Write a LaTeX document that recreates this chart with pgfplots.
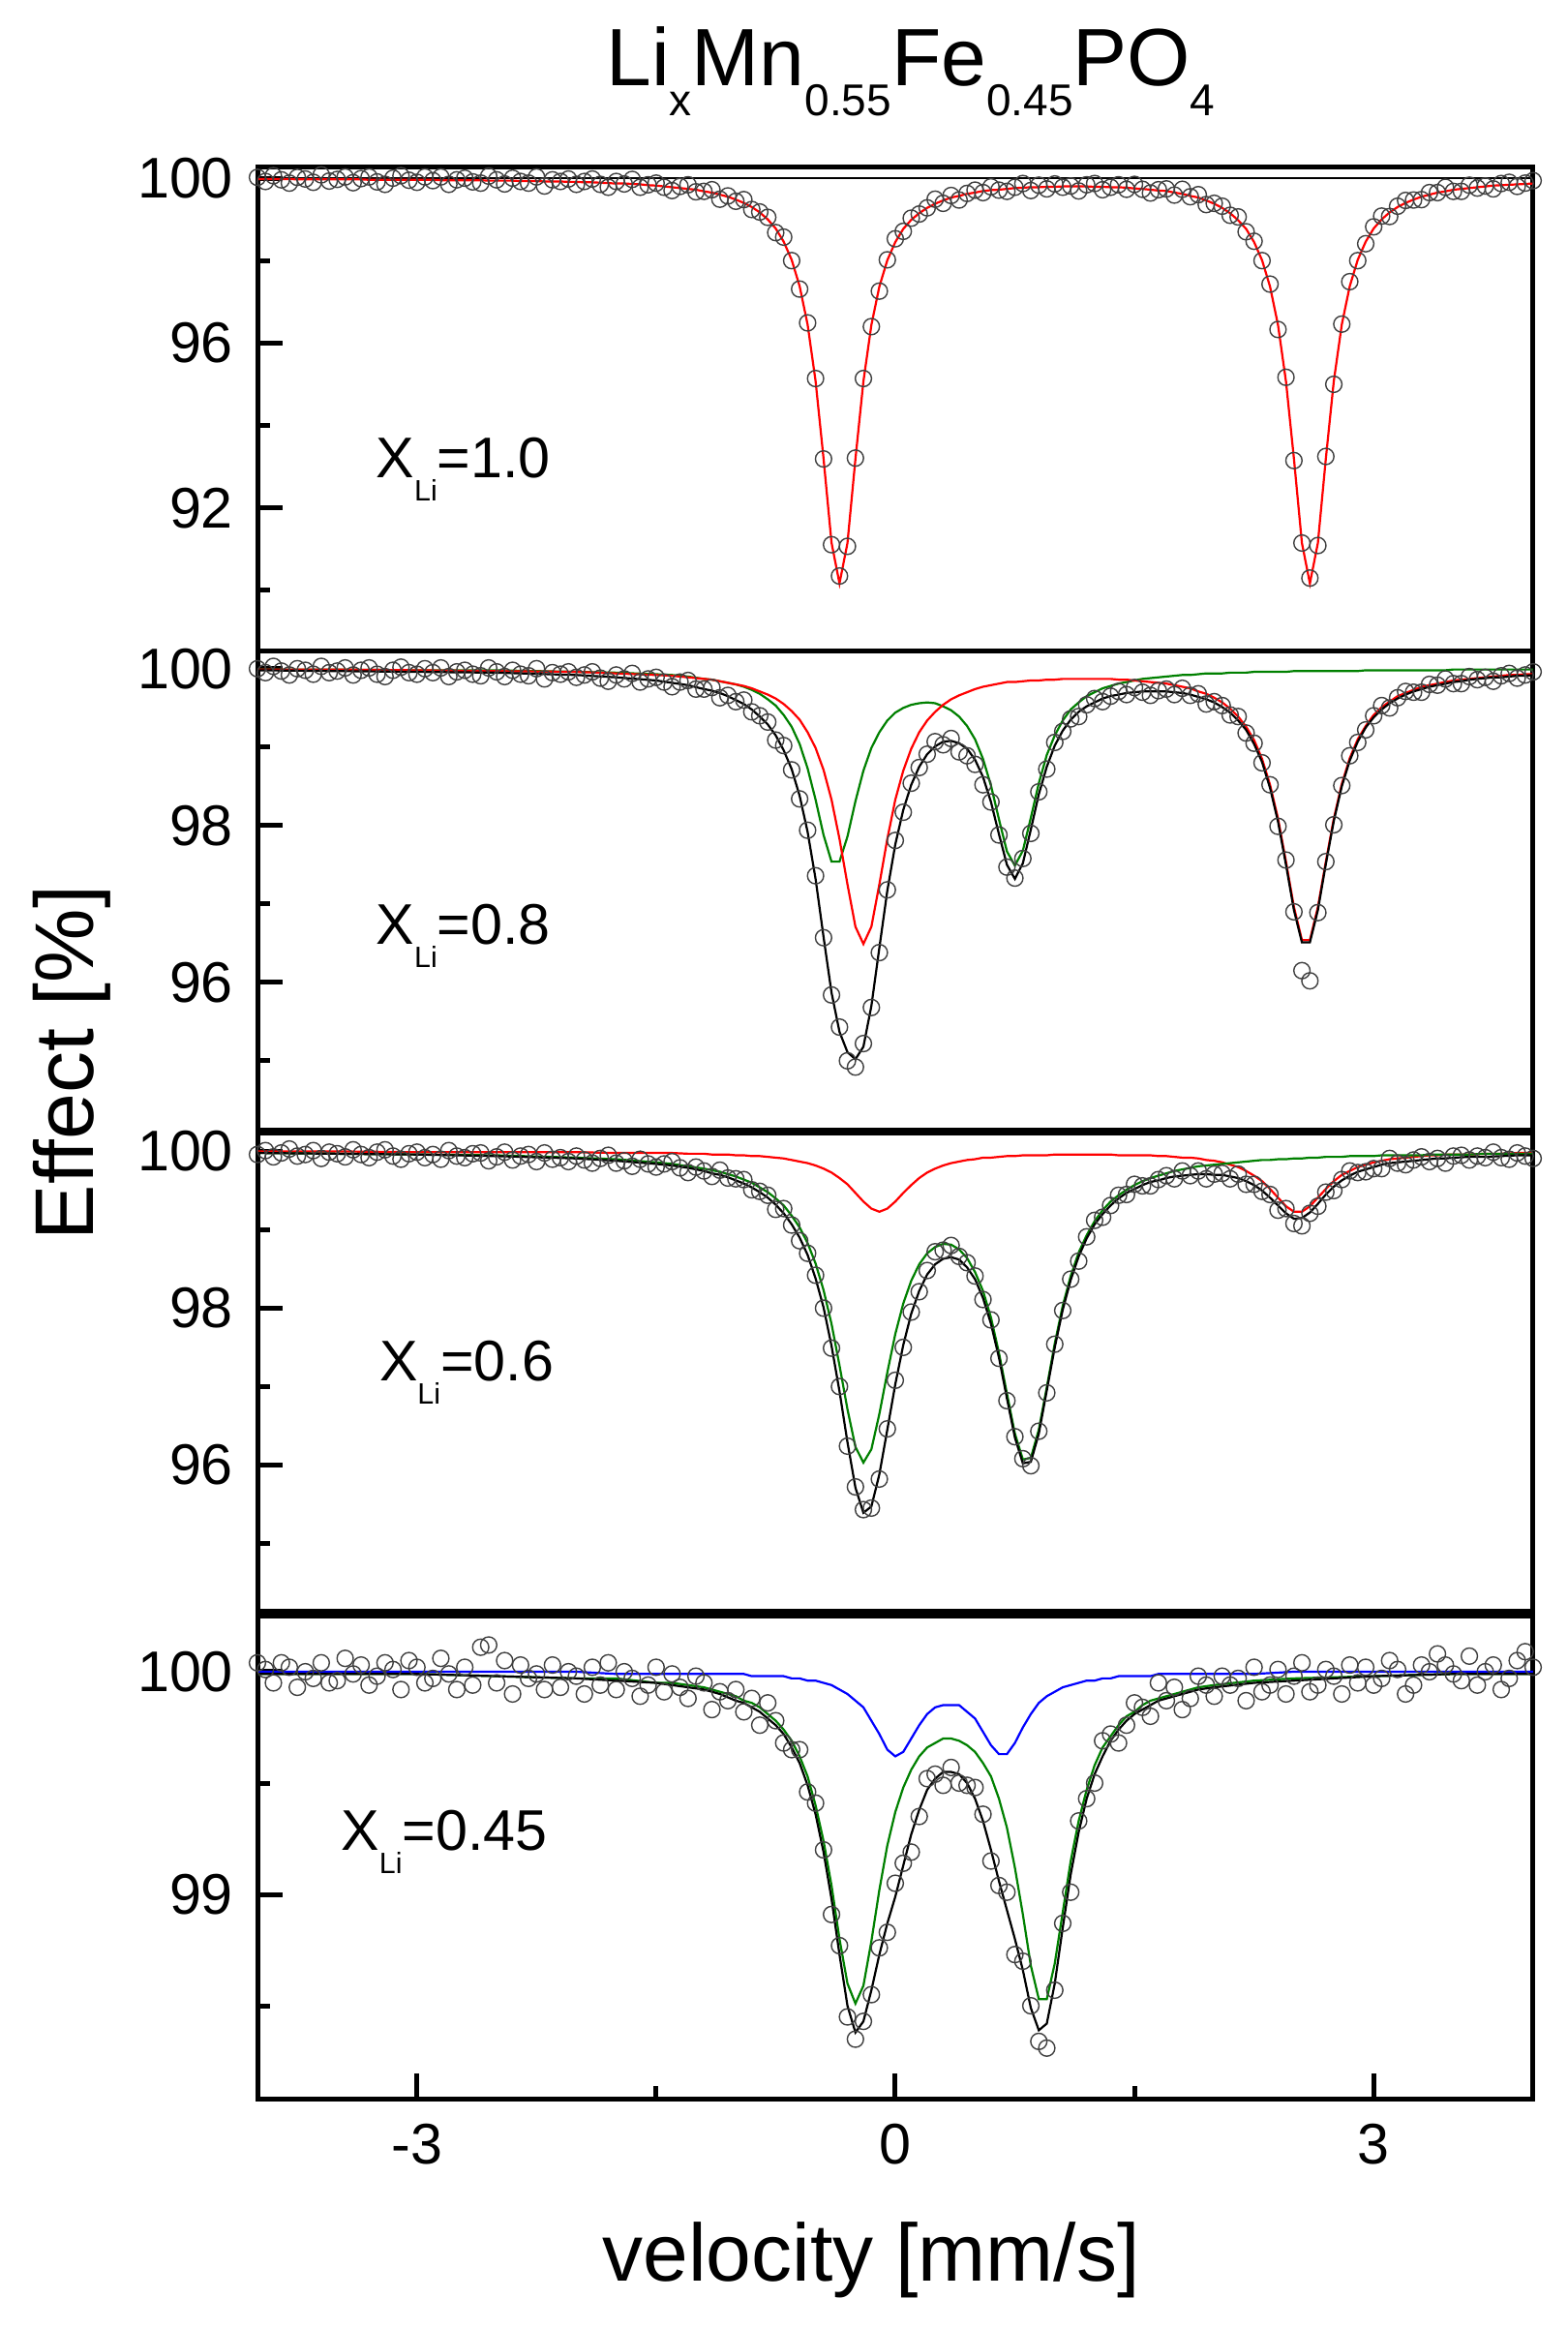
\documentclass[border=0pt]{standalone}
\usepackage{pgfplots}
\pgfplotsset{compat=1.18}
\usepackage{pgfplotstable}
\usepackage{fontspec}
\setmainfont{Liberation Sans}
\definecolor{ogreen}{RGB}{0,128,0}

% ---------- Panel 1 : x d(data) f(fit) ----------
\pgfplotstableread{
x d f
-4.00 100.02 99.98
-3.95 99.92 99.98
-3.90 100.06 99.98
-3.85 99.96 99.98
-3.80 99.88 99.98
-3.75 100.02 99.97
-3.70 99.98 99.97
-3.65 99.90 99.97
-3.60 100.08 99.97
-3.55 99.93 99.97
-3.50 99.97 99.97
-3.45 100.03 99.97
-3.40 99.89 99.97
-3.35 99.99 99.97
-3.30 100.03 99.96
-3.25 99.91 99.96
-3.20 99.85 99.96
-3.15 100.00 99.96
-3.10 100.06 99.96
-3.05 99.95 99.96
-3.00 99.90 99.96
-2.95 100.03 99.96
-2.90 99.94 99.96
-2.85 100.03 99.95
-2.80 99.85 99.95
-2.75 99.96 99.95
-2.70 100.00 99.95
-2.65 99.91 99.95
-2.60 99.88 99.95
-2.55 100.05 99.94
-2.50 99.96 99.94
-2.45 99.86 99.94
-2.40 100.00 99.94
-2.35 99.92 99.93
-2.30 99.88 99.93
-2.25 100.03 99.93
-2.20 99.81 99.92
-2.15 99.96 99.92
-2.10 99.92 99.92
-2.05 99.98 99.91
-2.00 99.85 99.91
-1.95 99.92 99.90
-1.90 99.98 99.90
-1.85 99.85 99.89
-1.80 99.78 99.88
-1.75 99.92 99.87
-1.70 99.86 99.87
-1.65 99.97 99.86
-1.60 99.78 99.85
-1.55 99.84 99.83
-1.50 99.88 99.82
-1.45 99.78 99.80
-1.40 99.70 99.78
-1.35 99.80 99.76
-1.30 99.84 99.74
-1.25 99.67 99.72
-1.20 99.68 99.68
-1.15 99.72 99.65
-1.10 99.49 99.60
-1.05 99.57 99.55
-1.00 99.44 99.48
-0.95 99.48 99.40
-0.90 99.24 99.30
-0.85 99.18 99.17
-0.80 99.05 99.00
-0.75 98.68 98.78
-0.70 98.57 98.46
-0.65 98.00 98.02
-0.60 97.31 97.38
-0.55 96.49 96.45
-0.50 95.14 95.08
-0.45 93.19 93.20
-0.40 91.11 91.16
-0.35 90.35 90.17
-0.30 91.07 91.15
-0.25 93.21 93.19
-0.20 95.14 95.07
-0.15 96.40 96.44
-0.10 97.26 97.37
-0.05 98.02 98.01
0.00 98.53 98.45
0.05 98.71 98.77
0.10 99.03 98.99
0.15 99.13 99.15
0.20 99.28 99.28
0.25 99.49 99.38
0.30 99.39 99.46
0.35 99.58 99.53
0.40 99.47 99.57
0.45 99.63 99.62
0.50 99.71 99.65
0.55 99.65 99.69
0.60 99.79 99.71
0.65 99.71 99.72
0.70 99.68 99.74
0.75 99.78 99.76
0.80 99.87 99.77
0.85 99.70 99.78
0.90 99.83 99.78
0.95 99.74 99.79
1.00 99.86 99.79
1.05 99.78 99.80
1.10 99.81 99.80
1.15 99.69 99.80
1.20 99.84 99.80
1.25 99.87 99.79
1.30 99.72 99.79
1.35 99.78 99.78
1.40 99.84 99.78
1.45 99.73 99.77
1.50 99.85 99.75
1.55 99.73 99.74
1.60 99.64 99.72
1.65 99.72 99.70
1.70 99.74 99.69
1.75 99.59 99.65
1.80 99.73 99.62
1.85 99.55 99.57
1.90 99.60 99.53
1.95 99.36 99.46
2.00 99.39 99.38
2.05 99.32 99.28
2.10 99.10 99.15
2.15 99.06 98.98
2.20 98.70 98.77
2.25 98.47 98.45
2.30 98.00 98.01
2.35 97.43 97.37
2.40 96.33 96.44
2.45 95.17 95.07
2.50 93.15 93.19
2.55 91.15 91.15
2.60 90.30 90.17
2.65 91.09 91.15
2.70 93.25 93.20
2.75 95.00 95.08
2.80 96.46 96.45
2.85 97.49 97.38
2.90 98.00 98.02
2.95 98.41 98.46
3.00 98.82 98.78
3.05 99.08 99.00
3.10 99.07 99.17
3.15 99.32 99.30
3.20 99.46 99.40
3.25 99.47 99.48
3.30 99.48 99.55
3.35 99.65 99.60
3.40 99.65 99.65
3.45 99.78 99.68
3.50 99.68 99.72
3.55 99.68 99.74
3.60 99.83 99.76
3.65 99.76 99.78
3.70 99.81 99.80
3.75 99.74 99.82
3.80 99.87 99.83
3.85 99.90 99.84
3.90 99.80 99.85
3.95 99.88 99.86
4.00 99.94 99.87
}\tA

% ---------- Panel 2 : data ----------
\pgfplotstableread{
x d
-4.00 100.00
-3.95 99.95
-3.90 100.03
-3.85 99.97
-3.80 99.92
-3.75 100.00
-3.70 99.98
-3.65 99.93
-3.60 100.03
-3.55 99.95
-3.50 99.97
-3.45 100.01
-3.40 99.92
-3.35 99.98
-3.30 100.01
-3.25 99.93
-3.20 99.90
-3.15 99.98
-3.10 100.02
-3.05 99.95
-3.00 99.93
-2.95 100.00
-2.90 99.95
-2.85 100.01
-2.80 99.90
-2.75 99.96
-2.70 99.98
-2.65 99.93
-2.60 99.91
-2.55 100.01
-2.50 99.96
-2.45 99.90
-2.40 99.98
-2.35 99.93
-2.30 99.91
-2.25 100.00
-2.20 99.87
-2.15 99.95
-2.10 99.93
-2.05 99.96
-2.00 99.89
-1.95 99.92
-1.90 99.96
-1.85 99.88
-1.80 99.84
-1.75 99.92
-1.70 99.87
-1.65 99.94
-1.60 99.83
-1.55 99.87
-1.50 99.89
-1.45 99.83
-1.40 99.77
-1.35 99.83
-1.30 99.85
-1.25 99.74
-1.20 99.74
-1.15 99.76
-1.10 99.63
-1.05 99.66
-1.00 99.58
-0.95 99.60
-0.90 99.45
-0.85 99.40
-0.80 99.32
-0.75 99.09
-0.70 99.02
-0.65 98.71
-0.60 98.34
-0.55 97.94
-0.50 97.36
-0.45 96.57
-0.40 95.84
-0.35 95.43
-0.30 95.00
-0.25 94.92
-0.20 95.22
-0.15 95.68
-0.10 96.38
-0.05 97.18
0.00 97.81
0.05 98.17
0.10 98.54
0.15 98.74
0.20 98.91
0.25 99.07
0.30 99.03
0.35 99.11
0.40 98.94
0.45 98.89
0.50 98.78
0.55 98.52
0.60 98.30
0.65 97.88
0.70 97.47
0.75 97.33
0.80 97.58
0.85 97.90
0.90 98.43
0.95 98.72
1.00 99.06
1.05 99.20
1.10 99.36
1.15 99.39
1.20 99.54
1.25 99.62
1.30 99.58
1.35 99.65
1.40 99.71
1.45 99.67
1.50 99.76
1.55 99.70
1.60 99.66
1.65 99.72
1.70 99.74
1.75 99.67
1.80 99.75
1.85 99.66
1.90 99.68
1.95 99.55
2.00 99.58
2.05 99.53
2.10 99.41
2.15 99.39
2.20 99.18
2.25 99.05
2.30 98.80
2.35 98.52
2.40 97.99
2.45 97.56
2.50 96.90
2.55 96.15
2.60 96.02
2.65 96.89
2.70 97.54
2.75 98.01
2.80 98.51
2.85 98.89
2.90 99.06
2.95 99.22
3.00 99.40
3.05 99.53
3.10 99.50
3.15 99.63
3.20 99.71
3.25 99.70
3.30 99.70
3.35 99.80
3.40 99.79
3.45 99.87
3.50 99.81
3.55 99.81
3.60 99.90
3.65 99.86
3.70 99.89
3.75 99.84
3.80 99.91
3.85 99.94
3.90 99.88
3.95 99.92
4.00 99.96
}\tBd

% ---------- Panel 2 : fits  k=total r=red g=green ----------
\pgfplotstableread{
x k r g
-4.00 99.98 99.99 99.99
-3.50 99.97 99.99 99.99
-3.00 99.96 99.98 99.98
-2.50 99.95 99.97 99.98
-2.00 99.92 99.96 99.96
-1.75 99.89 99.94 99.95
-1.50 99.85 99.92 99.93
-1.40 99.82 99.91 99.92
-1.30 99.79 99.89 99.90
-1.20 99.74 99.87 99.87
-1.15 99.72 99.86 99.86
-1.10 99.69 99.84 99.84
-1.05 99.65 99.82 99.82
-1.00 99.60 99.80 99.80
-0.95 99.55 99.78 99.77
-0.90 99.48 99.75 99.73
-0.85 99.39 99.71 99.68
-0.80 99.29 99.67 99.61
-0.75 99.15 99.62 99.53
-0.70 98.96 99.55 99.41
-0.65 98.72 99.46 99.26
-0.60 98.38 99.35 99.04
-0.55 97.92 99.19 98.73
-0.50 97.32 98.99 98.33
-0.45 96.58 98.71 97.88
-0.40 95.87 98.33 97.54
-0.35 95.37 97.83 97.54
-0.30 95.11 97.25 97.86
-0.25 95.02 96.71 98.31
-0.20 95.18 96.49 98.70
-0.15 95.70 96.71 98.99
-0.10 96.44 97.25 99.19
-0.05 97.17 97.83 99.34
0.00 97.76 98.33 99.44
0.05 98.20 98.70 99.50
0.10 98.52 98.98 99.54
0.15 98.75 99.19 99.56
0.20 98.91 99.34 99.57
0.25 99.01 99.45 99.56
0.30 99.07 99.54 99.52
0.35 99.08 99.61 99.47
0.40 99.05 99.66 99.39
0.45 98.98 99.70 99.27
0.50 98.84 99.74 99.10
0.55 98.62 99.77 98.85
0.60 98.30 99.79 98.51
0.65 97.89 99.81 98.08
0.70 97.50 99.83 97.67
0.75 97.32 99.83 97.49
0.80 97.52 99.84 97.68
0.85 97.95 99.85 98.10
0.90 98.40 99.85 98.54
0.95 98.75 99.86 98.90
1.00 99.02 99.86 99.15
1.05 99.21 99.87 99.34
1.10 99.35 99.87 99.48
1.15 99.45 99.87 99.57
1.20 99.52 99.87 99.65
1.25 99.57 99.87 99.70
1.30 99.62 99.87 99.75
1.35 99.65 99.87 99.78
1.40 99.67 99.86 99.81
1.45 99.69 99.86 99.83
1.50 99.70 99.85 99.85
1.55 99.71 99.84 99.87
1.60 99.71 99.83 99.88
1.65 99.71 99.82 99.89
1.70 99.71 99.81 99.90
1.75 99.70 99.79 99.91
1.80 99.69 99.77 99.92
1.85 99.67 99.75 99.92
1.90 99.64 99.71 99.93
1.95 99.61 99.68 99.94
2.00 99.57 99.63 99.94
2.05 99.51 99.57 99.94
2.10 99.44 99.49 99.95
2.15 99.34 99.39 99.95
2.20 99.22 99.26 99.95
2.25 99.04 99.09 99.96
2.30 98.81 98.85 99.96
2.35 98.48 98.52 99.96
2.40 98.05 98.09 99.96
2.45 97.50 97.54 99.96
2.50 96.92 96.96 99.97
2.55 96.51 96.54 99.97
2.60 96.51 96.54 99.97
2.65 96.92 96.96 99.97
2.70 97.51 97.54 99.97
2.75 98.06 98.09 99.97
2.80 98.50 98.53 99.97
2.85 98.83 98.86 99.97
2.90 99.07 99.10 99.97
2.95 99.25 99.27 99.98
3.00 99.38 99.41 99.98
3.05 99.48 99.51 99.98
3.10 99.56 99.58 99.98
3.15 99.62 99.65 99.98
3.20 99.67 99.69 99.98
3.25 99.71 99.73 99.98
3.30 99.74 99.77 99.98
3.35 99.77 99.79 99.98
3.40 99.79 99.81 99.98
3.45 99.81 99.83 99.98
3.50 99.83 99.85 99.99
3.55 99.84 99.86 99.99
3.60 99.86 99.87 99.99
3.65 99.87 99.88 99.99
3.70 99.88 99.89 99.99
3.75 99.89 99.90 99.99
3.80 99.89 99.91 99.99
3.85 99.90 99.92 99.99
3.90 99.91 99.92 99.99
3.95 99.91 99.93 99.99
4.00 99.92 99.93 99.99
}\tBf

% ---------- Panel 3 : data ----------
\pgfplotstableread{
x d
-4.00 99.96
-3.95 100.01
-3.90 99.93
-3.85 99.98
-3.80 100.03
-3.75 99.94
-3.70 99.96
-3.65 100.01
-3.60 99.91
-3.55 99.99
-3.50 99.97
-3.45 99.93
-3.40 100.02
-3.35 99.96
-3.30 99.92
-3.25 99.99
-3.20 100.02
-3.15 99.94
-3.10 99.90
-3.05 99.97
-3.00 99.99
-2.95 99.92
-2.90 99.96
-2.85 99.90
-2.80 100.01
-2.75 99.94
-2.70 99.92
-2.65 99.97
-2.60 99.98
-2.55 99.88
-2.50 99.93
-2.45 99.99
-2.40 99.89
-2.35 99.94
-2.30 99.96
-2.25 99.87
-2.20 99.98
-2.15 99.90
-2.10 99.92
-2.05 99.87
-2.00 99.94
-1.95 99.89
-1.90 99.85
-1.85 99.91
-1.80 99.95
-1.75 99.85
-1.70 99.88
-1.65 99.81
-1.60 99.90
-1.55 99.84
-1.50 99.80
-1.45 99.84
-1.40 99.87
-1.35 99.79
-1.30 99.73
-1.25 99.80
-1.20 99.75
-1.15 99.68
-1.10 99.76
-1.05 99.66
-1.00 99.65
-0.95 99.64
-0.90 99.51
-0.85 99.49
-0.80 99.44
-0.75 99.26
-0.70 99.27
-0.65 99.06
-0.60 98.86
-0.55 98.70
-0.50 98.42
-0.45 98.00
-0.40 97.49
-0.35 97.00
-0.30 96.24
-0.25 95.72
-0.20 95.43
-0.15 95.45
-0.10 95.82
-0.05 96.46
0.00 97.08
0.05 97.50
0.10 97.95
0.15 98.21
0.20 98.48
0.25 98.72
0.30 98.74
0.35 98.80
0.40 98.66
0.45 98.58
0.50 98.41
0.55 98.11
0.60 97.85
0.65 97.36
0.70 96.82
0.75 96.36
0.80 96.08
0.85 95.99
0.90 96.43
0.95 96.92
1.00 97.54
1.05 97.97
1.10 98.37
1.15 98.60
1.20 98.91
1.25 99.12
1.30 99.16
1.35 99.31
1.40 99.44
1.45 99.45
1.50 99.58
1.55 99.56
1.60 99.56
1.65 99.64
1.70 99.69
1.75 99.65
1.80 99.75
1.85 99.69
1.90 99.75
1.95 99.65
2.00 99.71
2.05 99.72
2.10 99.65
2.15 99.71
2.20 99.58
2.25 99.58
2.30 99.49
2.35 99.45
2.40 99.25
2.45 99.27
2.50 99.08
2.55 99.05
2.60 99.21
2.65 99.30
2.70 99.48
2.75 99.50
2.80 99.64
2.85 99.75
2.90 99.73
2.95 99.74
3.00 99.78
3.05 99.78
3.10 99.91
3.15 99.85
3.20 99.83
3.25 99.89
3.30 99.93
3.35 99.87
3.40 99.91
3.45 99.85
3.50 99.94
3.55 99.95
3.60 99.89
3.65 99.94
3.70 99.92
3.75 99.99
3.80 99.92
3.85 99.90
3.90 99.98
3.95 99.94
4.00 99.91
}\tCd

% ---------- Panel 3 : fits ----------
\pgfplotstableread{
x k r g
-4.00 99.98 100.00 99.98
-3.50 99.97 100.00 99.97
-3.00 99.96 99.99 99.96
-2.50 99.94 99.99 99.95
-2.00 99.91 99.99 99.92
-1.75 99.88 99.98 99.90
-1.50 99.84 99.98 99.86
-1.40 99.82 99.98 99.84
-1.30 99.79 99.97 99.81
-1.20 99.75 99.97 99.78
-1.15 99.72 99.96 99.76
-1.10 99.70 99.96 99.74
-1.05 99.67 99.96 99.71
-1.00 99.63 99.95 99.68
-0.95 99.59 99.95 99.64
-0.90 99.54 99.94 99.60
-0.85 99.48 99.94 99.54
-0.80 99.41 99.93 99.48
-0.75 99.32 99.92 99.40
-0.70 99.21 99.91 99.31
-0.65 99.07 99.89 99.18
-0.60 98.90 99.87 99.03
-0.55 98.68 99.85 98.83
-0.50 98.38 99.82 98.57
-0.45 98.01 99.78 98.23
-0.40 97.52 99.73 97.80
-0.35 96.94 99.66 97.27
-0.30 96.29 99.58 96.71
-0.25 95.71 99.47 96.23
-0.20 95.39 99.36 96.03
-0.15 95.47 99.27 96.20
-0.10 95.88 99.23 96.65
-0.05 96.45 99.27 97.18
0.00 97.03 99.36 97.67
0.05 97.53 99.47 98.06
0.10 97.93 99.57 98.35
0.15 98.22 99.66 98.56
0.20 98.43 99.73 98.70
0.25 98.56 99.78 98.78
0.30 98.63 99.82 98.82
0.35 98.65 99.85 98.81
0.40 98.62 99.87 98.75
0.45 98.52 99.89 98.64
0.50 98.37 99.90 98.46
0.55 98.13 99.92 98.22
0.60 97.80 99.92 97.88
0.65 97.37 99.93 97.43
0.70 96.85 99.94 96.91
0.75 96.35 99.94 96.40
0.80 96.02 99.95 96.07
0.85 96.04 99.95 96.09
0.90 96.40 99.95 96.45
0.95 96.95 99.95 96.99
1.00 97.50 99.96 97.55
1.05 97.98 99.96 98.03
1.10 98.36 99.96 98.41
1.15 98.66 99.96 98.71
1.20 98.89 99.96 98.93
1.25 99.07 99.96 99.11
1.30 99.20 99.96 99.25
1.35 99.31 99.96 99.36
1.40 99.40 99.95 99.44
1.45 99.47 99.95 99.51
1.50 99.52 99.95 99.57
1.55 99.57 99.95 99.62
1.60 99.61 99.95 99.66
1.65 99.63 99.94 99.69
1.70 99.66 99.94 99.72
1.75 99.68 99.93 99.75
1.80 99.69 99.92 99.77
1.85 99.70 99.92 99.79
1.90 99.71 99.91 99.81
1.95 99.71 99.89 99.82
2.00 99.70 99.88 99.83
2.05 99.70 99.86 99.84
2.10 99.68 99.83 99.85
2.15 99.66 99.80 99.86
2.20 99.62 99.75 99.87
2.25 99.57 99.69 99.88
2.30 99.50 99.62 99.89
2.35 99.41 99.52 99.89
2.40 99.31 99.41 99.90
2.45 99.21 99.30 99.90
2.50 99.14 99.23 99.91
2.55 99.15 99.23 99.91
2.60 99.22 99.30 99.92
2.65 99.33 99.41 99.92
2.70 99.45 99.52 99.93
2.75 99.55 99.62 99.93
2.80 99.63 99.70 99.93
2.85 99.69 99.75 99.94
2.90 99.74 99.80 99.94
2.95 99.77 99.83 99.94
3.00 99.80 99.86 99.94
3.05 99.83 99.88 99.95
3.10 99.85 99.90 99.95
3.15 99.86 99.91 99.95
3.20 99.87 99.92 99.95
3.25 99.88 99.93 99.95
3.30 99.89 99.94 99.95
3.35 99.90 99.95 99.96
3.40 99.91 99.95 99.96
3.45 99.91 99.96 99.96
3.50 99.92 99.96 99.96
3.60 99.93 99.96 99.96
3.70 99.93 99.97 99.97
3.80 99.94 99.97 99.97
3.90 99.95 99.98 99.97
4.00 99.95 99.98 99.97
}\tCf

% ---------- Panel 4 : data ----------
\pgfplotstableread{
x d
-4.00 100.04
-3.95 100.01
-3.90 99.95
-3.85 100.04
-3.80 100.02
-3.75 99.93
-3.70 100.00
-3.65 99.97
-3.60 100.04
-3.55 99.95
-3.50 99.96
-3.45 100.06
-3.40 99.99
-3.35 100.03
-3.30 99.94
-3.25 99.98
-3.20 100.04
-3.15 100.01
-3.10 99.92
-3.05 100.05
-3.00 100.02
-2.95 99.95
-2.90 99.97
-2.85 100.06
-2.80 99.99
-2.75 99.92
-2.70 100.02
-2.65 99.94
-2.60 100.11
-2.55 100.12
-2.50 99.95
-2.45 100.05
-2.40 99.90
-2.35 100.03
-2.30 99.97
-2.25 99.99
-2.20 99.92
-2.15 100.03
-2.10 99.93
-2.05 100.00
-2.00 99.98
-1.95 99.90
-1.90 100.02
-1.85 99.94
-1.80 100.04
-1.75 99.92
-1.70 100.00
-1.65 99.97
-1.60 99.89
-1.55 99.94
-1.50 100.02
-1.45 99.91
-1.40 99.99
-1.35 99.93
-1.30 99.88
-1.25 99.98
-1.20 99.95
-1.15 99.83
-1.10 99.91
-1.05 99.87
-1.00 99.92
-0.95 99.82
-0.90 99.88
-0.85 99.76
-0.80 99.86
-0.75 99.78
-0.70 99.68
-0.65 99.65
-0.60 99.65
-0.55 99.46
-0.50 99.41
-0.45 99.20
-0.40 98.91
-0.35 98.77
-0.30 98.45
-0.25 98.35
-0.20 98.43
-0.15 98.55
-0.10 98.76
-0.05 98.83
0.00 99.05
0.05 99.14
0.10 99.19
0.15 99.35
0.20 99.52
0.25 99.54
0.30 99.49
0.35 99.57
0.40 99.50
0.45 99.49
0.50 99.48
0.55 99.36
0.60 99.15
0.65 99.04
0.70 99.01
0.75 98.73
0.80 98.70
0.85 98.50
0.90 98.34
0.95 98.31
1.00 98.57
1.05 98.87
1.10 99.01
1.15 99.33
1.20 99.43
1.25 99.50
1.30 99.69
1.35 99.72
1.40 99.68
1.45 99.76
1.50 99.86
1.55 99.84
1.60 99.80
1.65 99.95
1.70 99.87
1.75 99.93
1.80 99.83
1.85 99.88
1.90 99.98
1.95 99.94
2.00 99.89
2.05 99.98
2.10 99.94
2.15 99.97
2.20 99.87
2.25 100.02
2.30 99.91
2.35 99.94
2.40 100.01
2.45 99.90
2.50 99.98
2.55 100.04
2.60 99.91
2.65 99.94
2.70 100.01
2.75 99.98
2.80 99.90
2.85 100.03
2.90 99.95
2.95 100.02
3.00 99.94
3.05 99.97
3.10 100.05
3.15 100.01
3.20 99.90
3.25 99.94
3.30 100.03
3.35 100.00
3.40 100.08
3.45 100.03
3.50 99.99
3.55 99.96
3.60 100.07
3.65 99.94
3.70 100.00
3.75 100.03
3.80 99.92
3.85 99.97
3.90 100.05
3.95 100.09
4.00 100.02
}\tDd

% ---------- Panel 4 : fits  k=total b=blue g=green ----------
\pgfplotstableread{
x k b g
-4.00 99.99 100.00 99.99
-3.00 99.99 100.00 99.99
-2.50 99.98 100.00 99.98
-2.00 99.97 100.00 99.97
-1.75 99.96 99.99 99.97
-1.50 99.95 99.99 99.95
-1.40 99.94 99.99 99.95
-1.30 99.93 99.99 99.94
-1.20 99.92 99.99 99.93
-1.10 99.90 99.99 99.91
-1.00 99.87 99.99 99.89
-0.95 99.86 99.99 99.87
-0.90 99.84 99.98 99.86
-0.85 99.82 99.98 99.84
-0.80 99.79 99.98 99.81
-0.75 99.76 99.98 99.78
-0.70 99.72 99.98 99.74
-0.65 99.66 99.97 99.69
-0.60 99.59 99.97 99.62
-0.55 99.49 99.96 99.53
-0.50 99.36 99.96 99.40
-0.45 99.19 99.95 99.24
-0.40 98.98 99.94 99.04
-0.35 98.73 99.92 98.80
-0.30 98.50 99.90 98.60
-0.25 98.38 99.87 98.51
-0.20 98.43 99.84 98.59
-0.15 98.57 99.78 98.79
-0.10 98.73 99.72 99.02
-0.05 98.87 99.65 99.22
0.00 98.99 99.62 99.37
0.05 99.13 99.64 99.48
0.10 99.27 99.70 99.56
0.15 99.38 99.76 99.62
0.20 99.47 99.81 99.66
0.25 99.52 99.84 99.68
0.30 99.55 99.85 99.70
0.35 99.55 99.85 99.70
0.40 99.54 99.85 99.69
0.45 99.50 99.82 99.67
0.50 99.43 99.79 99.64
0.55 99.33 99.73 99.59
0.60 99.20 99.67 99.53
0.65 99.06 99.63 99.43
0.70 98.93 99.63 99.30
0.75 98.80 99.68 99.12
0.80 98.66 99.75 98.91
0.85 98.49 99.81 98.68
0.90 98.39 99.86 98.53
0.95 98.42 99.89 98.53
1.00 98.60 99.91 98.69
1.05 98.85 99.93 98.92
1.10 99.09 99.94 99.15
1.15 99.28 99.95 99.33
1.20 99.43 99.96 99.47
1.25 99.54 99.96 99.58
1.30 99.62 99.97 99.66
1.35 99.69 99.97 99.71
1.40 99.74 99.98 99.76
1.45 99.78 99.98 99.80
1.50 99.81 99.98 99.82
1.55 99.83 99.98 99.85
1.60 99.85 99.98 99.87
1.65 99.87 99.99 99.88
1.70 99.88 99.99 99.89
1.80 99.90 99.99 99.91
1.90 99.92 99.99 99.93
2.00 99.93 99.99 99.94
2.25 99.95 99.99 99.96
2.50 99.96 100.00 99.97
3.00 99.98 100.00 99.98
3.50 99.99 100.00 99.99
4.00 99.99 100.00 99.99
}\tDf

\pgfplotsset{
  panel/.style={
    scale only axis, width=329.5pt, xmin=-4, xmax=4,
    anchor=north west,
    axis line style={line width=1.25pt},
    tick align=inside,
    ytick pos=left,
    major tick length=6.5pt, minor tick length=3.25pt,
    tick style={line width=1.25pt, black},
    yticklabel style={font=\fontsize{14.8}{17}\selectfont, xshift=-2.75pt},
    xticklabel style={font=\fontsize{14.8}{17}\selectfont, yshift=-3.1pt},
    xtick=\empty,
  },
  dat/.style={only marks, mark=o, mark size=2.1pt, black!75, line width=0.35pt},
  fitl/.style={line width=0.55pt, #1},
}
\newcommand{\xli}[1]{\fontsize{14.8}{17}\selectfont X\raisebox{-6pt}{\fontsize{7.6}{9}\selectfont Li}=#1}
\newcommand{\sub}[1]{\raisebox{-7.9pt}{\fontsize{11.5}{13}\selectfont #1}}

\begin{document}
\begin{tikzpicture}
\useasboundingbox (0,0) rectangle (404.75pt,-601.5pt);

% Panel 1
\begin{axis}[panel, at={(66.5pt,-43.25pt)}, height=125pt,
  ymin=88.52, ymax=100.26,
  ytick={92,96,100}, yticklabels={92,96,100}, minor ytick={90,94,98}]
  \addplot[black, line width=0.4pt] coordinates {(-4,100) (4,100)};
  \addplot[dat] table[x=x,y=d] {\tA};
  \addplot[fitl=red] table[x=x,y=f] {\tA};
  \node[anchor=base west, inner sep=0pt] at (axis cs:-3.26,92.73) {\xli{1.0}};
\end{axis}

% Panel 2
\begin{axis}[panel, at={(66.5pt,-168.25pt)}, height=123.75pt,
  ymin=94.11, ymax=100.22,
  ytick={96,98,100}, yticklabels={96,98,100}, minor ytick={95,97,99}]
  \addplot[dat] table[x=x,y=d] {\tBd};
  \addplot[fitl=ogreen] table[x=x,y=g] {\tBf};
  \addplot[fitl=red] table[x=x,y=r] {\tBf};
  \addplot[fitl=black] table[x=x,y=k] {\tBf};
  \node[anchor=base west, inner sep=0pt] at (axis cs:-3.26,96.49) {\xli{0.8}};
\end{axis}

% Panel 3
\begin{axis}[panel, at={(66.5pt,-292.5pt)}, height=123.5pt,
  ymin=94.14, ymax=100.24,
  ytick={96,98,100}, yticklabels={96,98,100}, minor ytick={95,97,99}]
  \addplot[dat] table[x=x,y=d] {\tCd};
  \addplot[fitl=red] table[x=x,y=r] {\tCf};
  \addplot[fitl=ogreen] table[x=x,y=g] {\tCf};
  \addplot[fitl=black] table[x=x,y=k] {\tCf};
  \node[anchor=base west, inner sep=0pt] at (axis cs:-3.24,97.07) {\xli{0.6}};
\end{axis}

% Panel 4
\begin{axis}[panel, at={(66.5pt,-417.25pt)}, height=124.75pt,
  ymin=98.083, ymax=100.252,
  ytick={99,100}, yticklabels={99,100}, minor ytick={98.5,99.5},
  xtick={-3,0,3}, xticklabels={-3,0,3}, minor xtick={-1.5,1.5}, xtick pos=bottom]
  \addplot[dat] table[x=x,y=d] {\tDd};
  \addplot[fitl=blue] table[x=x,y=b] {\tDf};
  \addplot[fitl=ogreen] table[x=x,y=g] {\tDf};
  \addplot[fitl=black] table[x=x,y=k] {\tDf};
  \node[anchor=base west, inner sep=0pt] at (axis cs:-3.48,99.20) {\xli{0.45}};
\end{axis}

% title and axis labels
\node[anchor=base, inner sep=0pt] at (235.25pt,-22.1pt)
  {\fontsize{21}{25}\selectfont Li\sub{x}Mn\sub{0.55}Fe\sub{0.45}PO\sub{4}};
\node[rotate=90, anchor=base, inner sep=0pt] at (24.2pt,-274.5pt)
  {\fontsize{21.5}{26}\selectfont Effect [\%]};
\node[anchor=base, inner sep=0pt] at (225pt,-589.2pt)
  {\fontsize{21}{25}\selectfont velocity [mm/s]};
\end{tikzpicture}
\end{document}
